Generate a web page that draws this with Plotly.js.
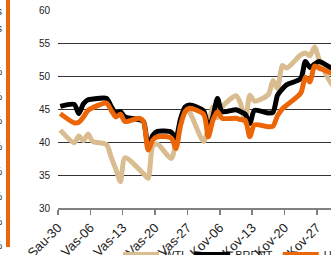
<!DOCTYPE html>
<html>
<head>
<meta charset="utf-8">
<script src="https://cdn.plot.ly/plotly-3.0.1.min.js"></script>
<style>
html,body{margin:0;padding:0;overflow:hidden;background:#fff;}
#chart{width:420px;height:290px;}
</style>
</head>
<body>
<div id="chart"></div>
<script>
// Data (2009, business days)
var dates = ['2009-01-30','2009-02-02','2009-02-03','2009-02-04','2009-02-05','2009-02-06',
 '2009-02-09','2009-02-10','2009-02-11','2009-02-12','2009-02-13',
 '2009-02-16','2009-02-17','2009-02-18','2009-02-19','2009-02-20',
 '2009-02-23','2009-02-24','2009-02-25','2009-02-26','2009-02-27',
 '2009-03-02','2009-03-03','2009-03-04','2009-03-05','2009-03-06',
 '2009-03-09','2009-03-10','2009-03-11','2009-03-12','2009-03-13',
 '2009-03-16','2009-03-17','2009-03-18','2009-03-19','2009-03-20',
 '2009-03-23','2009-03-24','2009-03-25','2009-03-26','2009-03-27',
 '2009-03-30','2009-03-31'];
var wti = [41.8,39.9,40.9,40.2,41.2,40.1,
 39.6,37.7,35.9,34.0,37.6,
 null,35.2,34.5,39.4,39.7,
 37.5,40.0,42.7,45.3,44.5,
 40.1,42.0,45.3,43.7,45.3,
 47.0,45.8,42.9,47.1,46.2,
 47.2,49.3,48.1,51.6,51.2,
 53.2,53.5,53.1,54.4,52.5,
 48.5,49.7];
var brent = [45.4,45.7,44.3,45.8,46.4,46.5,
 46.6,45.4,44.4,44.6,43.8,
 43.4,43.1,39.3,41.0,41.6,
 41.5,40.6,43.5,45.3,45.6,
 44.7,42.1,43.8,46.6,44.6,
 44.9,44.6,44.2,42.8,44.8,
 44.4,44.5,47.1,48.0,48.7,
 49.6,52.2,51.3,51.8,52.2,
 51.0,50.5];
var urals = [44.3,42.9,43.0,43.8,44.8,45.2,
 45.9,44.8,43.8,44.2,43.1,
 43.6,43.1,38.8,40.3,40.8,
 40.6,39.0,42.5,44.6,45.1,
 44.2,40.8,43.3,44.6,43.6,
 43.6,43.4,43.3,40.8,42.6,
 42.3,42.4,44.0,45.0,45.6,
 47.4,49.8,49.1,51.5,51.2,
 50.3,49.8];
var seriesNames = ['WTI','BRENT','URALS'];
var tickDates = ['2009-01-30','2009-02-06','2009-02-13','2009-02-20','2009-02-27',
 '2009-03-06','2009-03-13','2009-03-20','2009-03-27'];
var tickLabels = ['Sau-30','Vas-06','Vas-13','Vas-20','Vas-27','Kov-06','Kov-13','Kov-20','Kov-27'];
var yTicks = [30,35,40,45,50,55,60];

// points sit mid-day (between tick marks)
var xs = dates.map(function(d){return d+' 12:00';});

var fam = 'Arial, "Liberation Sans", sans-serif';
var font = {family:fam, size:10, color:'#222'};
var xfont = {family:fam, size:13, color:'#222'};
var lfont = {family:fam, size:11, color:'#222'};

function tr(name, y, color){
  return {x:xs, y:y, name:name, type:'scatter', mode:'lines', connectgaps:true,
    line:{color:color, width:5, shape:'spline', smoothing:0.7}, hoverinfo:'skip'};
}
var data = [
  tr(seriesNames[0], wti, '#D9BC90'),
  tr(seriesNames[1], brent, '#000000'),
  tr(seriesNames[2], urals, '#EC6608')
];

function px(p){return (p-58)/282;}
function py(p){return (208-p)/198;}

var leftFrag = [71,96,121,146,171,196,221,246];
var annotations = [
  {xref:'paper',yref:'paper',x:px(3.5),y:py(12),xanchor:'right',yanchor:'middle',text:'s',showarrow:false,font:font},
  {xref:'paper',yref:'paper',x:px(3.5),y:py(29),xanchor:'right',yanchor:'middle',text:'s',showarrow:false,font:font}
];
leftFrag.forEach(function(v){
  annotations.push({xref:'paper',yref:'paper',x:px(3.5),y:py(v),xanchor:'right',yanchor:'middle',text:'0 %',showarrow:false,font:font});
});

var layout = {
  width:420, height:290,
  margin:{l:58,r:80,t:10,b:82,pad:0},
  paper_bgcolor:'#fff', plot_bgcolor:'#fff',
  font:font,
  showlegend:true,
  legend:{orientation:'h', x:px(118), xanchor:'left', y:py(240), yanchor:'top',
    font:lfont, itemwidth:36, tracegroupgap:0, bgcolor:'rgba(0,0,0,0)'},
  xaxis:{type:'date', range:['2009-01-30','2009-04-01'],
    tickmode:'array', tickvals:tickDates, ticktext:tickLabels, tickangle:-45,
    showgrid:false, zeroline:false, showline:true, linecolor:'#808080', linewidth:2,
    ticks:'outside', ticklen:5, tickwidth:1.5, tickcolor:'#808080',
    tickfont:xfont, fixedrange:true},
  yaxis:{range:[30,60], tickmode:'array', tickvals:yTicks,
    showgrid:true, gridcolor:'#333', gridwidth:1, zeroline:false, showline:false,
    ticks:'', ticklabelstandoff:7, tickfont:font, fixedrange:true},
  shapes:[
    {type:'rect', xref:'paper', yref:'paper', x0:px(6), x1:px(10), y0:py(247), y1:py(-5),
     fillcolor:'#E8670C', line:{width:0}, layer:'above'}
  ],
  annotations:annotations
};

Plotly.newPlot('chart', data, layout, {staticPlot:true, displayModeBar:false});
</script>
</body>
</html>
